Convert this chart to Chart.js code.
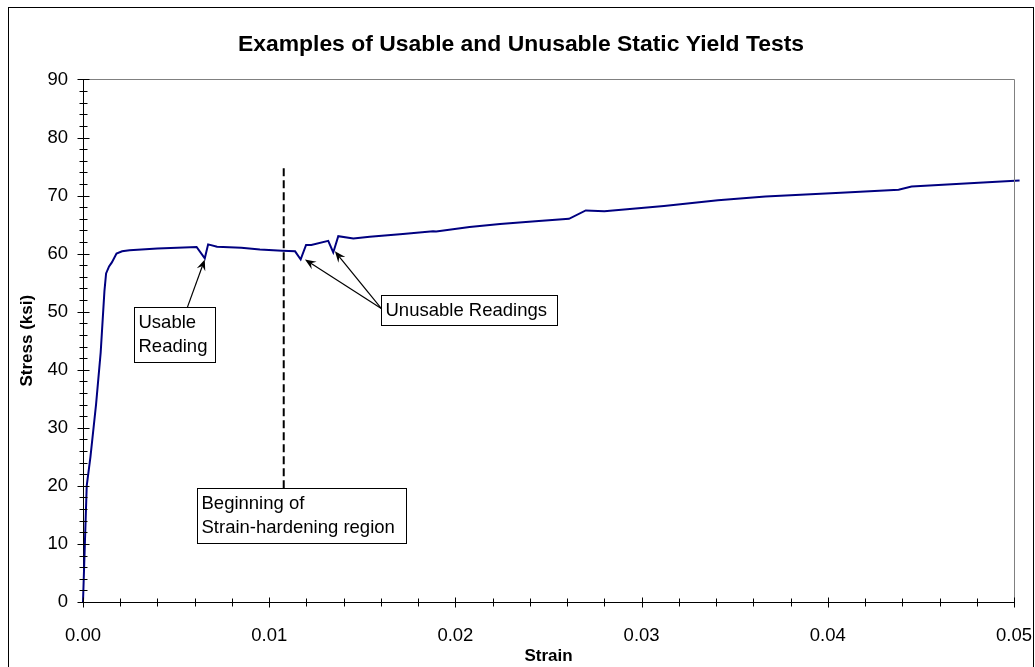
<!DOCTYPE html>
<html>
<head>
<meta charset="utf-8">
<title>Static Yield Tests</title>
<script src="https://cdn.jsdelivr.net/npm/chart.js@4.4.1/dist/chart.umd.min.js"></script>
<style>
  html, body { margin: 0; padding: 0; background: #fff; }
  canvas { display: block; }
</style>
</head>
<body>
<canvas id="chart" width="1035" height="667"></canvas>
<script>
// Stress-strain record of the static yield test
const strain = [0, 0.0001, 0.0002, 0.0004, 0.0007, 0.00095, 0.00115, 0.00124, 0.0014, 0.00155,
  0.0018, 0.0021, 0.0025, 0.004, 0.0061, 0.00654, 0.00672, 0.0072, 0.0085, 0.0095,
  0.0107, 0.01139, 0.01169, 0.01198, 0.01226, 0.01317, 0.01344, 0.01371, 0.01452, 0.0154,
  0.01718, 0.0188, 0.01897, 0.02076, 0.0224, 0.0243, 0.0261, 0.0270, 0.0280, 0.0312,
  0.0341, 0.03665, 0.0407, 0.0438, 0.0445, 0.0481, 0.0503];
const stress = [0, 10, 20, 25, 34, 43, 53.5, 56.6, 57.8, 58.5,
  60.0, 60.4, 60.6, 60.9, 61.15, 59.2, 61.6, 61.2, 61.0, 60.7,
  60.5, 60.4, 59.0, 61.5, 61.5, 62.2, 60.2, 63.0, 62.6, 62.9,
  63.4, 63.85, 63.8, 64.6, 65.1, 65.6, 66.0, 67.45, 67.3, 68.2,
  69.2, 69.85, 70.5, 71.0, 71.55, 72.2, 72.6];

// Start of strain hardening (dashed marker)
const hardeningStrain = [0.01078, 0.01078];
const hardeningStress = [19.6, 75];

// Callout boxes: text lines and corners [x0, yTop, x1, yBottom] in strain/stress units
const noteText = [["Usable", "Reading"], ["Unusable Readings"], ["Beginning of", "Strain-hardening region"]];
const noteBox = [[0.00274, 50.8, 0.00709, 41.3], [0.0160, 52.8, 0.02544, 47.7], [0.00614, 19.6, 0.01735, 10.1]];
// Leader arrows: tail and tip in strain/stress units
const arrowFrom = [[0.0056, 50.7], [0.01604, 50.5], [0.01604, 50.5]];
const arrowTo = [[0.00654, 59.0], [0.01192, 59.0], [0.01353, 60.4]];

// Axis ranges and tick spacing
const xRange = [0, 0.05], xMajor = 0.01, xMinor = 0.002;
const yRange = [0, 90], yMajor = 10, yMinor = 2;

const FONT = "'Liberation Sans', Arial, sans-serif";

const curvePoints = strain.map((s, i) => ({ x: s, y: stress[i] }));
const hardeningPoints = hardeningStrain.map((s, i) => ({ x: s, y: hardeningStress[i] }));

function drawArrow(ctx, x0, y0, x1, y1) {
  const ang = Math.atan2(y1 - y0, x1 - x0);
  const len = 11, half = 4.5, notch = 7;
  ctx.beginPath();
  ctx.moveTo(x0, y0);
  ctx.lineTo(x1 - Math.cos(ang) * notch, y1 - Math.sin(ang) * notch);
  ctx.stroke();
  const bx = x1 - Math.cos(ang) * len, by = y1 - Math.sin(ang) * len;
  const nx = -Math.sin(ang), ny = Math.cos(ang);
  ctx.beginPath();
  ctx.moveTo(x1, y1);
  ctx.lineTo(bx + nx * half, by + ny * half);
  ctx.lineTo(x1 - Math.cos(ang) * notch, y1 - Math.sin(ang) * notch);
  ctx.lineTo(bx - nx * half, by - ny * half);
  ctx.closePath();
  ctx.fill();
}

const decorations = {
  id: 'decorations',
  beforeDraw(chart) {
    const { ctx, width, height } = chart;
    ctx.save();
    ctx.fillStyle = '#fff';
    ctx.fillRect(0, 0, width, height);
    ctx.restore();
  },
  afterDatasetsDraw(chart) {
    const { ctx, chartArea: a, scales: { x, y } } = chart;
    ctx.save();

    // outer frame of the chart
    ctx.strokeStyle = '#000';
    ctx.lineWidth = 1;
    ctx.strokeRect(8.5, 7.5, 1025, 700);

    // plot area frame (top and right)
    ctx.strokeStyle = '#808080';
    ctx.beginPath();
    ctx.moveTo(Math.round(a.left) + 0.5, Math.round(a.top) + 0.5);
    ctx.lineTo(Math.round(a.right) + 0.5, Math.round(a.top) + 0.5);
    ctx.lineTo(Math.round(a.right) + 0.5, Math.round(a.bottom) + 0.5);
    ctx.stroke();

    // tick marks crossing the axes
    ctx.strokeStyle = '#000';
    const ax = Math.round(a.left) + 0.5, ay = Math.round(a.bottom) + 0.5;
    ctx.beginPath();
    for (let v = yRange[0]; v <= yRange[1] + 1e-9; v += yMinor) {
      const major = Math.abs(v / yMajor - Math.round(v / yMajor)) < 1e-6;
      const py = Math.round(y.getPixelForValue(v)) + 0.5;
      const l = major ? 6 : 4;
      ctx.moveTo(ax - l, py); ctx.lineTo(ax + l, py);
    }
    for (let i = 0; xRange[0] + i * xMinor <= xRange[1] + 1e-9; i++) {
      const v = xRange[0] + i * xMinor;
      const major = i % Math.round(xMajor / xMinor) === 0;
      const px = Math.round(x.getPixelForValue(v)) + 0.5;
      const l = major ? 5 : 4;
      ctx.moveTo(px, ay - l); ctx.lineTo(px, ay + l);
    }
    ctx.stroke();

    // callout boxes
    ctx.font = '18.5px ' + FONT;
    ctx.textBaseline = 'middle';
    ctx.textAlign = 'left';
    noteBox.forEach((b, i) => {
      const x0 = Math.round(x.getPixelForValue(b[0])) + 0.5;
      const y0 = Math.round(y.getPixelForValue(b[1])) + 0.5;
      const x1 = Math.round(x.getPixelForValue(b[2])) + 0.5;
      const y1 = Math.round(y.getPixelForValue(b[3])) + 0.5;
      ctx.fillStyle = '#fff';
      ctx.fillRect(x0, y0, x1 - x0, y1 - y0);
      ctx.strokeStyle = '#000';
      ctx.strokeRect(x0, y0, x1 - x0, y1 - y0);
      ctx.fillStyle = '#000';
      const lines = noteText[i];
      const lh = 24.5;
      const first = (y0 + y1) / 2 - (lines.length - 1) * lh / 2;
      lines.forEach((t, k) => ctx.fillText(t, x0 + 4, first + k * lh));
    });

    // leader arrows
    ctx.strokeStyle = '#000';
    ctx.fillStyle = '#000';
    ctx.lineWidth = 1.2;
    arrowFrom.forEach((f, i) => {
      drawArrow(ctx,
        x.getPixelForValue(f[0]), y.getPixelForValue(f[1]),
        x.getPixelForValue(arrowTo[i][0]), y.getPixelForValue(arrowTo[i][1]));
    });
    ctx.restore();
  }
};

new Chart(document.getElementById('chart'), {
  type: 'scatter',
  data: {
    datasets: [
      {
        data: curvePoints,
        showLine: true,
        borderColor: '#000080',
        borderWidth: 2,
        pointRadius: 0,
        tension: 0,
        clip: { left: 2, top: 2, right: 8, bottom: 2 }
      },
      {
        data: hardeningPoints,
        showLine: true,
        borderColor: '#000',
        borderWidth: 2,
        borderDash: [8, 4],
        pointRadius: 0
      }
    ]
  },
  options: {
    responsive: false,
    animation: false,
    devicePixelRatio: 1,
    events: [],
    layout: { padding: { left: 7, right: 0, top: 0, bottom: 0 } },
    plugins: {
      legend: { display: false },
      tooltip: { enabled: false },
      title: {
        display: true,
        text: 'Examples of Usable and Unusable Static Yield Tests',
        color: '#000',
        font: { family: FONT, size: 22.9, weight: 'bold', lineHeight: 1.2 },
        padding: { top: 31, bottom: 21 }
      }
    },
    scales: {
      x: {
        type: 'linear',
        min: xRange[0],
        max: xRange[1],
        afterFit: s => { s.height = 65; s.paddingRight = 21; s.paddingLeft = 0; },
        grid: { display: false, drawTicks: false },
        border: { display: true, color: '#000', width: 1 },
        ticks: {
          stepSize: xMajor,
          padding: 23,
          color: '#000',
          font: { family: FONT, size: 18.5 },
          maxRotation: 0,
          callback: v => v.toFixed(2)
        },
        title: {
          display: true,
          text: 'Strain',
          color: '#000',
          font: { family: FONT, size: 17, weight: 'bold', lineHeight: 1.2 },
          padding: { top: 0, bottom: 0 }
        }
      },
      y: {
        type: 'linear',
        min: yRange[0],
        max: yRange[1],
        afterFit: s => { s.width = 76; },
        grid: { display: false, drawTicks: false },
        border: { display: true, color: '#000', width: 1 },
        ticks: {
          stepSize: yMajor,
          padding: 15,
          color: '#000',
          font: { family: FONT, size: 18.5 },
          callback: v => String(v)
        },
        title: {
          display: true,
          text: 'Stress (ksi)',
          color: '#000',
          font: { family: FONT, size: 17, weight: 'bold', lineHeight: 1.2 },
          padding: { top: 10, bottom: 0 }
        }
      }
    }
  },
  plugins: [decorations]
});
</script>
</body>
</html>
